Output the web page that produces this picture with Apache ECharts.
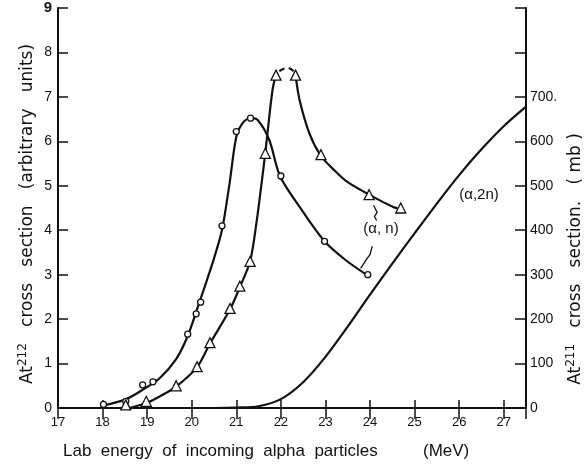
<!DOCTYPE html>
<html>
<head>
<meta charset="utf-8">
<script src="https://cdn.jsdelivr.net/npm/echarts@6.0.0/dist/echarts.min.js"></script>
<style>
  html, body { margin: 0; padding: 0; background: #fff; }
  #chart { width: 587px; height: 466px; }
</style>
</head>
<body>
<div id="chart"></div>
<script>
// x ticks (MeV)
const xTicks = [17, 18, 19, 20, 21, 22, 23, 24, 25, 26, 27]

// At212 (alpha,n) - circles, left axis (arbitrary units)
const circlePoints = [
  [18.02, 0.08], [18.52, 0.15], [18.9, 0.52], [19.13, 0.59], [19.91, 1.66],
  [20.1, 2.12], [20.2, 2.38], [20.68, 4.1], [21.0, 6.22], [21.32, 6.52],
  [22.0, 5.22], [22.98, 3.75], [23.95, 3.0]
]
const circleCurve = [
  [18.0, 0.05], [18.53, 0.2], [18.9, 0.41], [19.28, 0.67], [19.65, 1.1],
  [19.91, 1.62], [20.17, 2.37], [20.47, 3.27], [20.68, 4.01], [20.85, 5.06],
  [21.0, 6.1], [21.15, 6.42], [21.32, 6.52], [21.48, 6.48], [21.74, 6.03],
  [21.98, 5.22], [22.41, 4.54], [22.98, 3.75], [23.45, 3.33], [23.95, 2.98]
]

// At212 (alpha,n) - triangles, left axis
const trianglePoints = [
  [18.52, 0.07], [18.98, 0.15], [19.65, 0.5], [20.12, 0.93], [20.41, 1.47],
  [20.86, 2.24], [21.08, 2.74], [21.31, 3.3], [21.65, 5.73], [21.89, 7.49],
  [22.33, 7.49], [22.9, 5.7], [23.98, 4.8], [24.69, 4.5]
]
const triCurveRise = [
  [18.6, 0.0], [19.0, 0.12], [19.3, 0.27], [19.65, 0.48], [20.12, 0.92],
  [20.41, 1.45], [20.86, 2.22], [21.08, 2.72], [21.31, 3.3], [21.46, 4.22],
  [21.56, 5.0], [21.65, 5.73], [21.74, 6.55], [21.82, 7.2], [21.89, 7.49]
]
const triCurvePeak = [
  [21.89, 7.49], [21.97, 7.58], [22.06, 7.63], [22.19, 7.64], [22.28, 7.58], [22.33, 7.49]
]
const triCurveFall = [
  [22.33, 7.49], [22.42, 6.93], [22.64, 6.18], [22.9, 5.67], [23.2, 5.35],
  [23.5, 5.08], [24.0, 4.79], [24.52, 4.52], [24.62, 4.49]
]

// At211 (alpha,2n) - right axis (mb)
const twoNCurve = [
  [18.6, 0], [19.5, 0], [20.5, 0], [21.0, 1], [21.5, 4], [22.0, 20], [22.5, 58],
  [23.0, 115], [23.5, 183], [24.0, 255], [24.5, 325], [25.0, 393], [25.5, 460],
  [26.0, 524], [26.5, 582], [27.0, 634], [27.5, 678]
]

// little pointers from the (alpha,n) label to both curves
const pointerUp = [[24.15, 4.22], [24.1, 4.31], [24.16, 4.4], [24.08, 4.56]]
const pointerDown = [[24.05, 3.64], [24.0, 3.45], [23.93, 3.36], [23.86, 3.25], [23.79, 3.14]]

const FONT = 'Liberation Sans'
const TITLE_FONT = 'DejaVu Sans'
const INK = '#111'

const chart = echarts.init(document.getElementById('chart'))

function curve(data, yAxisIndex, dashed) {
  return {
    type: 'line',
    data: data,
    yAxisIndex: yAxisIndex,
    smooth: 0.3,
    showSymbol: false,
    symbol: 'none',
    lineStyle: {
      color: INK, width: 2.2,
      type: dashed ? [6, 4] : 'solid',
      dashOffset: dashed ? 5 : 0
    },
    z: 2,
    silent: true
  }
}

function markers(data, symbol, size) {
  return {
    type: 'scatter',
    data: data,
    symbol: symbol,
    symbolSize: size,
    itemStyle: { color: '#fff', borderColor: INK, borderWidth: 1.3, opacity: 1 },
    z: 5,
    silent: true
  }
}

function pointer(coords) {
  return {
    type: 'lines',
    coordinateSystem: 'cartesian2d',
    polyline: true,
    symbol: ['none', 'arrow'],
    symbolSize: 6,
    lineStyle: { color: INK, width: 1.3, opacity: 1 },
    data: [{ coords: coords }],
    z: 4,
    silent: true
  }
}

const supStyle = { fontSize: 12, fontFamily: TITLE_FONT, fill: INK, padding: [0, 0, 10, 0] }

const option = {
  animation: false,
  backgroundColor: '#fff',
  grid: { left: 58, right: 61, top: 8, bottom: 58 },
  xAxis: [
    {
      type: 'value',
      min: xTicks[0],
      max: 27.5,
      interval: 1,
      axisLine: { lineStyle: { color: INK, width: 2 } },
      axisTick: { inside: true, length: 8, lineStyle: { color: INK, width: 1.5 } },
      splitLine: { show: false },
      axisLabel: {
        color: INK, fontFamily: FONT, fontSize: 13, margin: 8,
        formatter: v => (xTicks.includes(v) ? String(v) : '')
      }
    },
    {
      type: 'value',
      position: 'top',
      min: xTicks[0],
      max: 27.5,
      interval: 1,
      axisLine: { lineStyle: { color: INK, width: 2 } },
      axisTick: { inside: true, length: 11, lineStyle: { color: INK, width: 1.5 } },
      splitLine: { show: false },
      axisLabel: { show: false }
    }
  ],
  yAxis: [
    {
      type: 'value',
      min: 0,
      max: 9,
      interval: 1,
      axisLine: { show: true, lineStyle: { color: INK, width: 2 } },
      axisTick: { show: true, inside: true, length: 10, lineStyle: { color: INK, width: 1.5 } },
      splitLine: { show: false },
      axisLabel: {
        color: INK, fontFamily: FONT, fontSize: 14, margin: 6,
        formatter: v => (v === 9 ? '{b|9}' : String(v)),
        rich: { b: { fontWeight: 'bold', fontSize: 15, fontFamily: FONT, color: INK } }
      }
    },
    {
      type: 'value',
      position: 'right',
      min: 0,
      max: 900,
      interval: 100,
      axisLine: { show: true, lineStyle: { color: INK, width: 2 } },
      axisTick: { show: true, inside: true, length: 11, lineStyle: { color: INK, width: 1.5 } },
      splitLine: { show: false },
      axisLabel: {
        color: INK, fontFamily: FONT, fontSize: 14, margin: 4,
        formatter: v => (v > 700 ? '' : v === 700 ? '700.' : String(v))
      }
    }
  ],
  series: [
    curve(circleCurve, 0),
    curve(triCurveRise, 0),
    curve(triCurvePeak, 0, true),
    curve(triCurveFall, 0),
    curve(twoNCurve, 1),
    markers(circlePoints, 'circle', 6),
    markers(trianglePoints, 'triangle', 10),
    pointer(pointerUp),
    pointer(pointerDown)
  ],
  graphic: [
    // x axis title
    {
      type: 'text', left: 63, top: 443,
      style: { text: 'Lab  energy  of  incoming  alpha  particles', font: '17px ' + FONT, fill: INK }
    },
    {
      type: 'text', left: 423, top: 443,
      style: { text: '(MeV)', font: '17px ' + FONT, fill: INK }
    },
    // left axis title
    {
      type: 'text', x: 28, y: 214, rotation: Math.PI / 2,
      style: {
        text: 'At{s|212}   cross   section   (arbitrary   units)',
        fill: INK, font: '17px ' + TITLE_FONT, align: 'center', verticalAlign: 'middle',
        rich: { s: supStyle }
      }
    },
    // right axis title
    {
      type: 'text', x: 576, y: 259, rotation: Math.PI / 2,
      style: {
        text: 'At{s|211}   cross   section.   ( mb )',
        fill: INK, font: '17px ' + TITLE_FONT, align: 'center', verticalAlign: 'middle',
        rich: { s: supStyle }
      }
    },
    // curve labels
    {
      type: 'text', x: 479, y: 195,
      style: { text: '(α,2n)', font: '15px ' + FONT, fill: INK, align: 'center', verticalAlign: 'middle' }
    },
    {
      type: 'text', x: 381, y: 229,
      style: { text: '(α, n)', font: '15px ' + FONT, fill: INK, align: 'center', verticalAlign: 'middle' }
    }
  ]
}

chart.setOption(option)
</script>
</body>
</html>
